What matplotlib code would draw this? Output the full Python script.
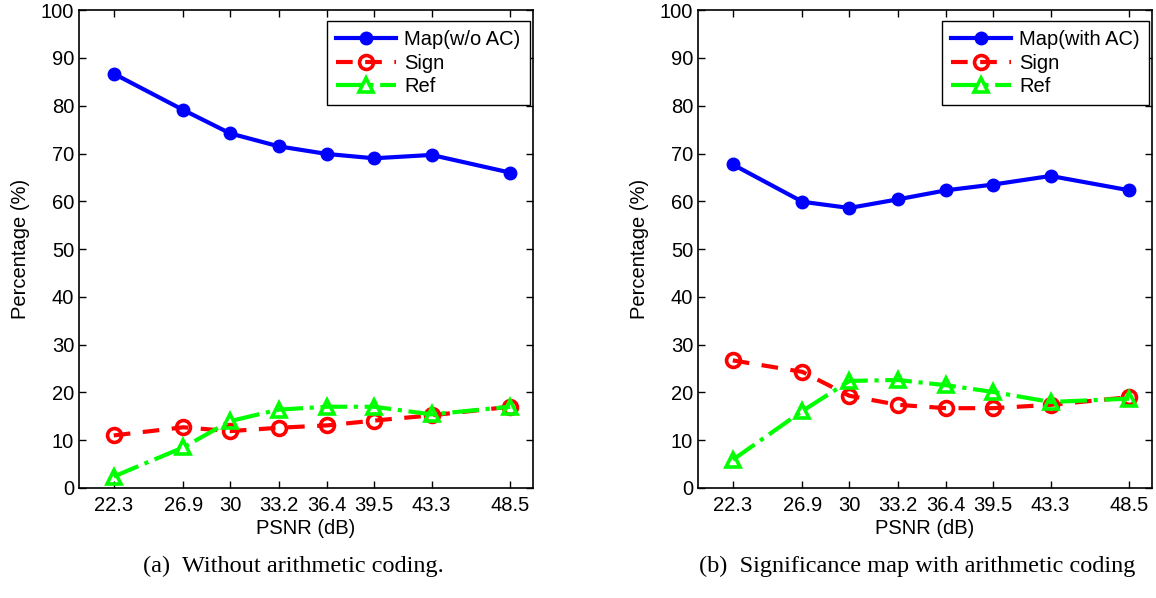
import matplotlib.pyplot as plt

plt.rcParams['font.family'] = ['Liberation Sans', 'DejaVu Sans']

psnr = [22.3, 26.9, 30, 33.2, 36.4, 39.5, 43.3, 48.5]
psnr_labels = ['22.3', '26.9', '30', '33.2', '36.4', '39.5', '43.3', '48.5']

# (a) without arithmetic coding
map_no_ac = [86.7, 79.1, 74.2, 71.5, 69.9, 69.0, 69.7, 66.0]
sign_a = [11.0, 12.7, 11.9, 12.6, 13.1, 14.1, 15.2, 17.0]
ref_a = [2.4, 8.5, 14.0, 16.4, 17.0, 17.0, 15.4, 17.0]

# (b) significance map with arithmetic coding
map_ac = [67.7, 59.9, 58.6, 60.4, 62.3, 63.5, 65.3, 62.3]
sign_b = [26.7, 24.3, 19.3, 17.4, 16.7, 16.7, 17.4, 19.0]
ref_b = [5.9, 16.1, 22.4, 22.6, 21.5, 20.1, 18.0, 18.7]

captions = ['(a)  Without arithmetic coding.',
            '(b)  Significance map with arithmetic coding']
map_names = ['Map(w/o AC)', 'Map(with AC)']

fs = 14.5

fig = plt.figure(figsize=(11.56, 5.98), dpi=100)
ax1 = fig.add_axes([0.0683, 0.184, 0.3927, 0.799])
ax2 = fig.add_axes([0.6038, 0.184, 0.3927, 0.799])

panels = [(ax1, map_no_ac, sign_a, ref_a), (ax2, map_ac, sign_b, ref_b)]

for i, (ax, m, s, r) in enumerate(panels):
    ax.plot(psnr, m, '-', color='#0000FF', lw=3, marker='o', ms=9,
            label=map_names[i])
    ax.plot(psnr, s, '--', color='#FF0000', lw=3, marker='o', ms=10,
            mfc='none', mew=2.6, dashes=(4, 3), label='Sign')
    ax.plot(psnr, r, '-.', color='#00FF00', lw=3, marker='^', ms=10,
            mfc='none', mew=2.6, label='Ref')

    ax.set_xlim(20, 50)
    ax.set_ylim(0, 100)
    ax.set_xticks(psnr)
    ax.set_xticklabels(psnr_labels)
    ax.set_yticks(range(0, 101, 10))
    ax.tick_params(direction='in', top=True, right=True, labelsize=fs,
                   length=5, width=1)
    ax.tick_params(axis='x', pad=6)
    for sp in ax.spines.values():
        sp.set_linewidth(1.2)
    ax.set_xlabel('PSNR (dB)', fontsize=fs, labelpad=3)
    ax.set_ylabel('Percentage (%)', fontsize=fs, labelpad=8)

    leg = ax.legend(loc='upper right', bbox_to_anchor=(0.993, 0.977),
                    borderaxespad=0, fontsize=fs, handlelength=3.0,
                    borderpad=0.45, labelspacing=0.22, handletextpad=0.4,
                    fancybox=False, edgecolor='black', framealpha=1)
    leg.get_frame().set_linewidth(1.0)

fig.text(0.254, 0.052, captions[0], ha='center', va='center',
         fontsize=17.5, family=['Liberation Serif'])
fig.text(0.793, 0.052, captions[1], ha='center', va='center',
         fontsize=17.5, family=['Liberation Serif'])

fig.savefig('out.png', dpi=100)
